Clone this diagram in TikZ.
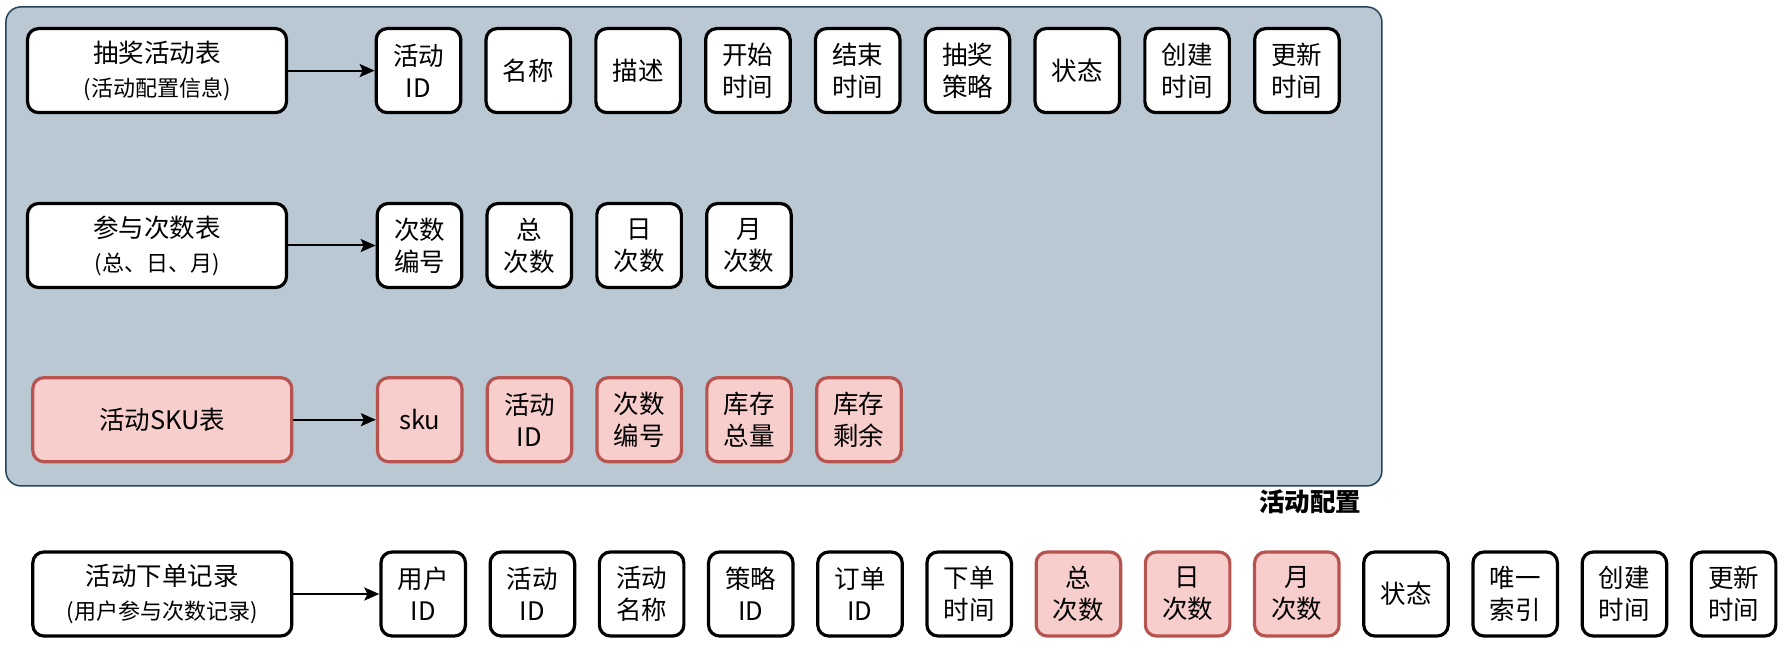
\documentclass[tikz,border=0pt]{standalone}
\usepackage{fontspec}
\setmainfont{Noto Sans CJK SC}
\usetikzlibrary{arrows.meta}
\definecolor{grpfill}{HTML}{BAC8D3}
\definecolor{grpline}{HTML}{23445D}
\definecolor{pinkfill}{HTML}{F8CECC}
\definecolor{pinkline}{HTML}{B85450}
\tikzset{
  box/.style={draw=black, line width=3.2pt, rounded corners=11pt, fill=white, align=center, inner sep=0pt, font=\fontsize{25.5}{32}\selectfont},
  mainbox/.style={box, minimum width=259pt, minimum height=84pt},
  fld/.style={box, minimum width=84.5pt, minimum height=84pt},
  pink/.style={fill=pinkfill, draw=pinkline},
  link/.style={-{Stealth[length=15pt,width=13pt,inset=3pt]}, line width=2pt},
  subtxt/.style={font=\fontsize{22}{28}\selectfont},
  container/.style={draw=grpline, fill=grpfill, line width=1.5pt, rounded corners=15pt, inner sep=0pt},
}
\newcommand{\subline}[1]{{\fontsize{22}{28}\selectfont #1}}
\begin{document}
\begin{tikzpicture}[x=1pt,y=-1pt]
\useasboundingbox (0,0) rectangle (1786,652);
\node[container, minimum width=1376pt, minimum height=479pt] (grp) at (693.9,246.4) {};
\node[font=\bfseries\fontsize{25.5}{30}\selectfont, inner sep=0pt] (lbl) at (1310,502) {活动配置};
% row 1
\node[mainbox] (r1m) at (157,70.6) {抽奖活动表\\[2pt]\subline{(活动配置信息)}};
\foreach \t [count=\i] in {{活动\\ID},{名称},{描述},{开始\\时间},{结束\\时间},{抽奖\\策略},{状态},{创建\\时间},{更新\\时间}}
  \node[fld] (r1f\i) at ({418.5+109.8*(\i-1)},70.6) {\t};
\draw[link] (r1m.east) -- (r1f1.west);
% row 2
\node[mainbox] (r2m) at (157,245.5) {参与次数表\\[2pt]\subline{(总、日、月)}};
\foreach \t [count=\i] in {{次数\\编号},{总\\次数},{日\\次数},{月\\次数}}
  \node[fld] (r2f\i) at ({419.5+109.8*(\i-1)},245.5) {\t};
\draw[link] (r2m.east) -- (r2f1.west);
% row 3
\node[mainbox, pink] (r3m) at (162.3,419.7) {活动SKU表};
\foreach \t [count=\i] in {{sku},{活动\\ID},{次数\\编号},{库存\\总量},{库存\\剩余}}
  \node[fld, pink] (r3f\i) at ({419.7+109.8*(\i-1)},419.7) {\t};
\draw[link] (r3m.east) -- (r3f1.west);
% row 4
\node[mainbox] (r4m) at (162.3,594) {活动下单记录\\[2pt]\subline{(用户参与次数记录)}};
\foreach \t/\s [count=\i] in {{用户\\ID}/fld,{活动\\ID}/fld,{活动\\名称}/fld,{策略\\ID}/fld,{订单\\ID}/fld,{下单\\时间}/fld,{总\\次数}/pink,{日\\次数}/pink,{月\\次数}/pink,{状态}/fld,{唯一\\索引}/fld,{创建\\时间}/fld,{更新\\时间}/fld}
  \node[fld, \s] (r4f\i) at ({423.2+109.2*(\i-1)},594) {\t};
\draw[link] (r4m.east) -- (r4f1.west);
\end{tikzpicture}
\end{document}
